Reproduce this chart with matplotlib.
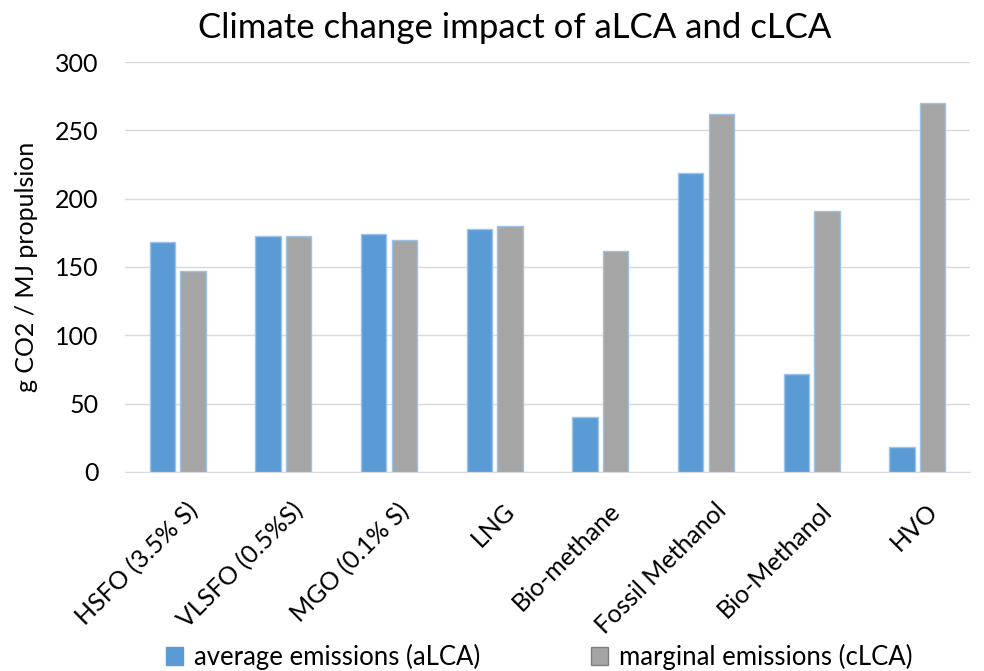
import numpy as np
import matplotlib
matplotlib.use('Agg')
import matplotlib.pyplot as plt
import matplotlib.transforms as mtransforms
from matplotlib.patches import Patch

# Data
fuels = ['HSFO (3.5% S)', 'VLSFO (0.5%S)', 'MGO (0.1% S)', 'LNG', 'Bio-methane',
         'Fossil Methanol', 'Bio-Methanol', 'HVO']
average_alca = [168, 173, 174, 178, 40, 219, 72, 18]
marginal_clca = [147, 173, 170, 180, 162, 262, 191, 270]

plt.rcParams.update({'font.family': ['Lato', 'DejaVu Sans']})

fig = plt.figure(figsize=(9.84, 6.71), dpi=100)
ax = fig.add_axes([0.127, 0.2966, 0.859, 0.611])

x = np.arange(len(fuels))
w = 0.24
ax.bar(x - 0.145, average_alca, w, color='#5B9BD5', edgecolor='#9DC3E6', linewidth=1,
       label='average emissions (aLCA)', zorder=3)
ax.bar(x + 0.145, marginal_clca, w, color='#A5A5A5', edgecolor='#9DC3E6', linewidth=1,
       label='marginal emissions (cLCA)', zorder=3)

ax.set_xlim(-0.5, len(fuels) - 0.5)
ax.set_ylim(0, 300)
ax.set_yticks(np.arange(0, 301, 50))
ax.grid(axis='y', color='#D9D9D9', linewidth=1, zorder=0)
for s in ['top', 'right', 'left']:
    ax.spines[s].set_visible(False)
ax.spines['bottom'].set_color('#D9D9D9')
ax.tick_params(length=0, colors='#000000')
ax.tick_params(axis='y', pad=19, labelsize=18)

ax.set_xticks(x)
ax.set_xticklabels(fuels, rotation=45, ha='right', rotation_mode='anchor', fontsize=18)
offset = mtransforms.ScaledTranslation(0.08, -0.22, fig.dpi_scale_trans)
for lbl in ax.get_xticklabels():
    lbl.set_transform(lbl.get_transform() + offset)

ax.set_ylabel('g CO2 / MJ propulsion', fontsize=18, labelpad=12)
fig.suptitle('Climate change impact of aLCA and cLCA', fontsize=25, x=0.523, y=0.982)

handles = [Patch(facecolor='#5B9BD5', edgecolor='#5B9BD5'),
           Patch(facecolor='#A5A5A5', edgecolor='#7F7F7F')]
fig.legend(handles, ['average emissions (aLCA)', 'marginal emissions (cLCA)'],
           loc='lower center', bbox_to_anchor=(0.548, -0.033), ncol=2, frameon=False,
           fontsize=18.5, columnspacing=4.3, handlelength=0.65, handleheight=0.65,
           handletextpad=0.45)

fig.savefig('out.png', dpi=100)
